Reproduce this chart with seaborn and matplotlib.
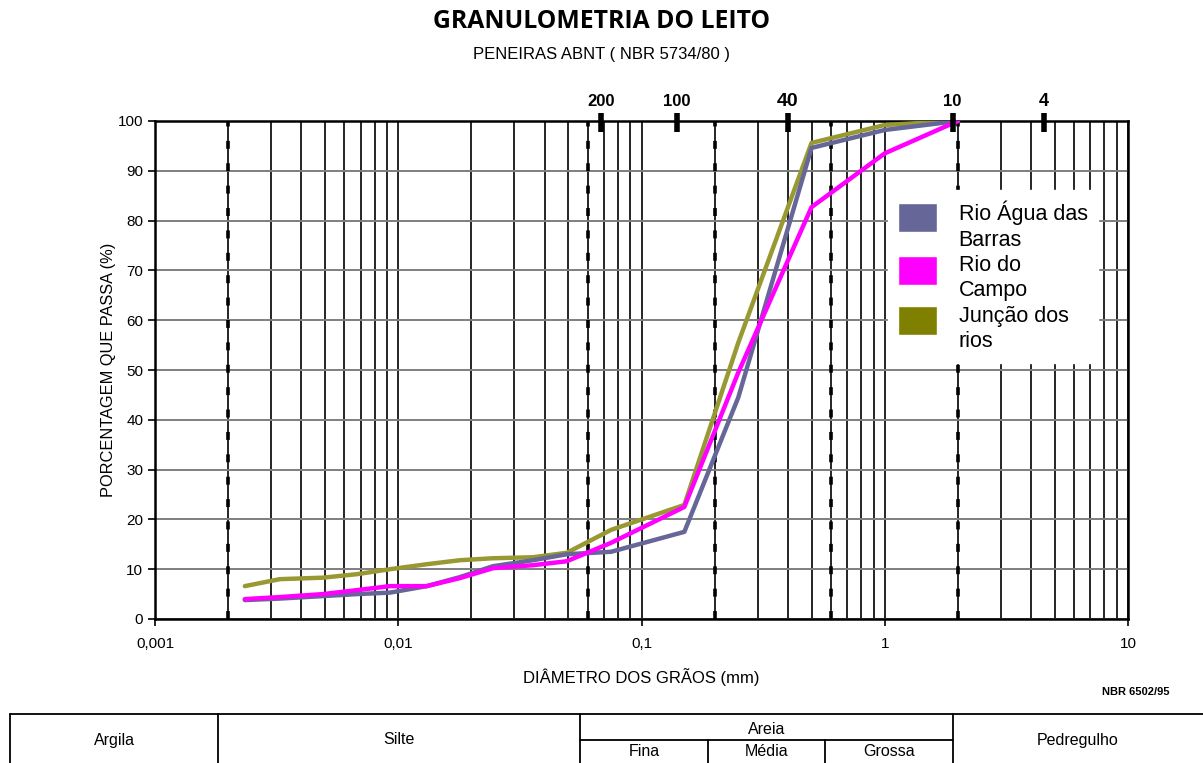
import matplotlib
matplotlib.use('Agg')
import matplotlib.pyplot as plt
import matplotlib.patches as mpatches
from matplotlib.legend_handler import HandlerPatch
from matplotlib.ticker import LogLocator, NullFormatter
import pandas as pd
import seaborn as sns

# dados (diametro em mm, % que passa)
diametros = [0.00234, 0.00326, 0.0049, 0.00677, 0.00925, 0.0131, 0.0179, 0.0245,
             0.0358, 0.0493, 0.075, 0.15, 0.25, 0.5, 1.0, 2.0]
agua_das_barras = [3.8, 4.1, 4.6, 5.0, 5.3, 6.6, 8.4, 10.6, 11.8, 13.0, 13.5, 17.5, 44.5, 94.6, 98.2, 100]
rio_do_campo = [4.0, 4.4, 5.0, 5.8, 6.6, 6.6, 8.2, 10.2, 10.8, 11.6, 15.3, 22.5, 49.5, 82.7, 93.5, 100]
juncao = [6.6, 8.0, 8.3, 9.0, 10.0, 11.0, 11.8, 12.2, 12.4, 13.3, 17.9, 22.9, 55.5, 95.6, 99.2, 100]

series = ['Rio Água das\nBarras', 'Rio do\nCampo', 'Junção dos\nrios']
cores_linha = ['#666699', '#FF00FF', '#999933']
cores_legenda = ['#666699', '#FF00FF', '#808000']

peneiras = ['200', '100', '40', '10', '4']
aberturas = [0.068, 0.14, 0.40, 1.9, 4.5]
tam_peneira = [12, 12, 14, 12, 13]
limites = [0.002, 0.06, 0.2, 0.6, 2.0]
x_ticks = [0.001, 0.01, 0.1, 1, 10]
x_labels = ['0,001', '0,01', '0,1', '1', '10']

df = pd.DataFrame({
    'd': diametros * 3,
    'p': agua_das_barras + rio_do_campo + juncao,
    'serie': [series[0]] * len(diametros) + [series[1]] * len(diametros) + [series[2]] * len(diametros),
})

sns.set_style('white')
plt.rcParams['font.family'] = ['Liberation Sans', 'DejaVu Sans']
plt.rcParams['text.color'] = 'black'
plt.rcParams['axes.labelcolor'] = 'black'
plt.rcParams['xtick.color'] = 'black'
plt.rcParams['ytick.color'] = 'black'

fig = plt.figure(figsize=(12.03, 7.63), dpi=100)

# tabela de classificacao (coordenadas em pixels da figura)
tab = fig.add_axes([0, 0, 1, 1], zorder=-1)
tab.set_xlim(0, 1203)
tab.set_ylim(763, 0)
tab.axis('off')
kw = dict(color='black', lw=1.3)
tab.plot([10, 1203], [714, 714], **kw)
for xv in [10, 218, 580, 953]:
    tab.plot([xv, xv], [714, 763], **kw)
tab.plot([580, 953], [740, 740], **kw)
for xv in [708, 825]:
    tab.plot([xv, xv], [740, 763], **kw)
for txt, xv, yv in [('Argila', 114, 740), ('Silte', 399, 740), ('Areia', 767, 730),
                    ('Fina', 644, 752), ('Média', 767, 752), ('Grossa', 889, 752),
                    ('Pedregulho', 1078, 740)]:
    tab.text(xv, yv, txt, ha='center', va='center', fontsize=11.5)

ax = fig.add_axes([155 / 1203, 1 - 619 / 763, 973 / 1203, 498 / 763])
ax.set_xscale('log')
ax.set_xlim(0.001, 10)
ax.set_ylim(0, 100)

ax.xaxis.set_minor_locator(LogLocator(base=10, subs=range(2, 10)))
ax.xaxis.set_minor_formatter(NullFormatter())
ax.grid(which='both', axis='x', color='black', lw=1.2)
ax.grid(which='major', axis='y', color='#7f7f7f', lw=1.4)
ax.set_axisbelow(True)

for xv in limites:
    ax.axvline(xv, color='black', lw=2.6, ls=(0, (2.2, 4.0)), zorder=1)

sns.lineplot(data=df, x='d', y='p', hue='serie', hue_order=[series[2], series[0], series[1]],
             palette=dict(zip(series, cores_linha)), lw=3.2, estimator=None, sort=False,
             legend=False, ax=ax, zorder=3)

ax.set_xticks(x_ticks)
ax.set_xticklabels(x_labels, fontsize=11)
ax.set_yticks(range(0, 101, 10))
ax.tick_params(axis='y', labelsize=11, length=5, width=1.2, left=True, color='black')
ax.tick_params(axis='x', which='major', length=5, width=1.2, bottom=True, color='black', pad=8)
ax.tick_params(axis='x', which='minor', length=0)
for s in ax.spines.values():
    s.set_color('black')
    s.set_linewidth(1.8)

ax.set_xlabel('DIÂMETRO DOS GRÃOS (mm)', fontsize=12, labelpad=12)
ax.set_ylabel('PORCENTAGEM QUE PASSA (%)', fontsize=11.8, labelpad=1)

# marcas das peneiras no topo
for nome, ab, fs in zip(peneiras, aberturas, tam_peneira):
    ax.plot([ab, ab], [97.8, 101.6], color='black', lw=4, solid_capstyle='butt', clip_on=False, zorder=5)
    ax.text(ab, 104.0, nome, ha='center', va='center', fontsize=fs, fontweight='bold')


def caixa_alta(legend, orig_handle, xdescent, ydescent, width, height, fontsize):
    # quadrado da legenda alinhado mais perto da primeira linha do texto
    return mpatches.Rectangle((-xdescent, -ydescent + 6.5), width, height)


handles = [mpatches.Patch(facecolor=c, edgecolor='white') for c in cores_legenda]
leg = ax.legend(handles, series, loc='upper left', bbox_to_anchor=(0.753, 0.861),
                borderaxespad=0, frameon=True, fancybox=False, facecolor='white',
                edgecolor='white', framealpha=1, fontsize=15.5, handlelength=1.8,
                handleheight=1.7, handletextpad=1.0, labelspacing=0.2, borderpad=0.5,
                handler_map={mpatches.Patch: HandlerPatch(patch_func=caixa_alta)})
for t in leg.get_texts():
    t.set_linespacing(1.27)
leg.set_zorder(6)

fig.text(0.5, 1 - 21 / 763, 'GRANULOMETRIA DO LEITO', ha='center', va='center',
         fontsize=17.8, fontweight='bold', family=['Open Sans', 'DejaVu Sans'])
fig.text(0.5, 1 - 55 / 763, 'PENEIRAS ABNT ( NBR 5734/80 )', ha='center', va='center', fontsize=12)
fig.text(1170 / 1203, 1 - 692 / 763, 'NBR 6502/95', ha='right', va='center', fontsize=8, fontweight='bold')

fig.savefig('out.png', dpi=100)
